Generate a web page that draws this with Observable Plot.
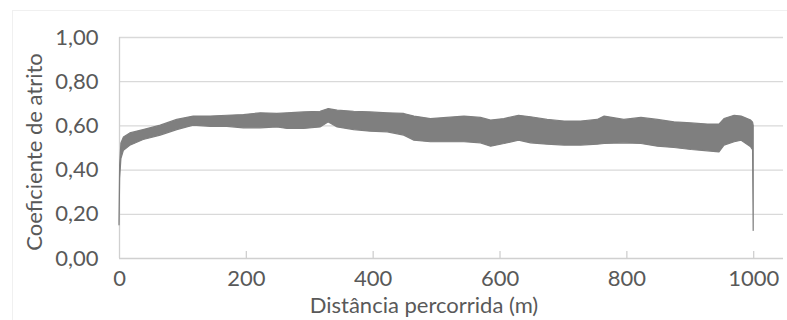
<!DOCTYPE html>
<html>
<head>
<meta charset="utf-8">
<script src="https://cdn.jsdelivr.net/npm/d3@7"></script>
<script src="https://cdn.jsdelivr.net/npm/@observablehq/plot@0.6"></script>
<style>
  html, body { margin: 0; padding: 0; background: #fff; }
  #wrap { position: relative; width: 787px; height: 320px; }
  #border { position: absolute; left: 12px; top: 10px; right: -2px; bottom: -2px; border: 1px solid #f0f0f0; pointer-events: none; }
</style>
</head>
<body>
<div id="wrap"><div id="border"></div></div>
<script>
// Distance travelled (m)
const distance = [0, 1, 3, 7, 17, 38, 65, 91, 117, 144, 170, 196, 223, 249, 265, 291, 317, 330, 344, 370, 396, 423, 449, 465, 491, 517, 544, 570, 586, 607, 630, 649, 675, 702, 728, 754, 765, 796, 823, 849, 875, 902, 928, 946, 954, 970, 981, 996, 999, 1000];
// Lower envelope of the friction coefficient band
const coefMin = [0.15, 0.36, 0.45, 0.488, 0.51, 0.536, 0.556, 0.581, 0.601, 0.596, 0.596, 0.589, 0.589, 0.593, 0.586, 0.586, 0.593, 0.616, 0.593, 0.581, 0.574, 0.571, 0.556, 0.533, 0.526, 0.526, 0.526, 0.521, 0.506, 0.518, 0.533, 0.521, 0.515, 0.511, 0.511, 0.515, 0.518, 0.521, 0.518, 0.506, 0.5, 0.491, 0.485, 0.48, 0.511, 0.526, 0.533, 0.503, 0.49, 0.125];
// Upper envelope of the friction coefficient band
const coefMax = [0.17, 0.42, 0.52, 0.548, 0.566, 0.581, 0.601, 0.627, 0.642, 0.642, 0.646, 0.649, 0.657, 0.654, 0.657, 0.661, 0.664, 0.676, 0.669, 0.664, 0.661, 0.657, 0.654, 0.642, 0.631, 0.636, 0.642, 0.636, 0.624, 0.631, 0.646, 0.639, 0.627, 0.62, 0.62, 0.627, 0.642, 0.627, 0.636, 0.627, 0.616, 0.611, 0.606, 0.606, 0.631, 0.646, 0.642, 0.624, 0.615, 0.6];

const xTicks = [0, 200, 400, 600, 800, 1000];
const yTicks = [0, 0.2, 0.4, 0.6, 0.8, 1.0];
const xLabel = "Distância percorrida (m)";
const yLabel = "Coeficiente de atrito";

const data = distance.map((d, i) => ({d, lo: coefMin[i], hi: coefMax[i]}));
const fmt = v => v.toFixed(2).replace(".", ",");
const textColor = "#595959";
const fs = 22;

const chart = Plot.plot({
  width: 787,
  height: 320,
  marginLeft: 119,
  marginRight: 4,
  marginTop: 37,
  marginBottom: 62,
  style: {fontFamily: "Lato, sans-serif", fontSize: fs + "px", color: textColor, background: "transparent"},
  x: {domain: [0, 1047], ticks: xTicks},
  y: {domain: [0, 1], ticks: yTicks},
  marks: [
    Plot.ruleY(yTicks.slice(1), {stroke: "#d9d9d9", strokeWidth: 1.3}),
    Plot.ruleX([0], {stroke: "#d0d0d0", strokeWidth: 1.3}),
    Plot.ruleY([0], {stroke: "#d0d0d0", strokeWidth: 1.3}),
    Plot.ruleX(xTicks.slice(1), {stroke: "#d0d0d0", strokeWidth: 1.3, insetTop: 214}),
    Plot.areaY(data, {x: "d", y1: "lo", y2: "hi", fill: "#7f7f7f", stroke: "#7f7f7f", strokeWidth: 1.2}),
    Plot.axisX(xTicks, {tickSize: 0, tickPadding: 12, fill: textColor, fontSize: fs, label: null, tickFormat: d => String(d)}),
    Plot.axisY(yTicks, {tickSize: 0, tickPadding: 21, fill: textColor, fontSize: fs, label: null, tickFormat: fmt})
  ]
});
const svg = d3.select(chart);
svg.append("text")
  .attr("transform", "translate(42,152) rotate(-90)")
  .attr("text-anchor", "middle")
  .attr("fill", textColor)
  .style("font", fs + "px Lato, sans-serif")
  .text(yLabel);
svg.append("text")
  .attr("x", 424)
  .attr("y", 313)
  .attr("text-anchor", "middle")
  .attr("fill", textColor)
  .style("font", fs + "px Lato, sans-serif")
  .text(xLabel);
document.getElementById("wrap").appendChild(chart);
chart.style.position = "absolute";
chart.style.left = "0";
chart.style.top = "0";
</script>
</body>
</html>
